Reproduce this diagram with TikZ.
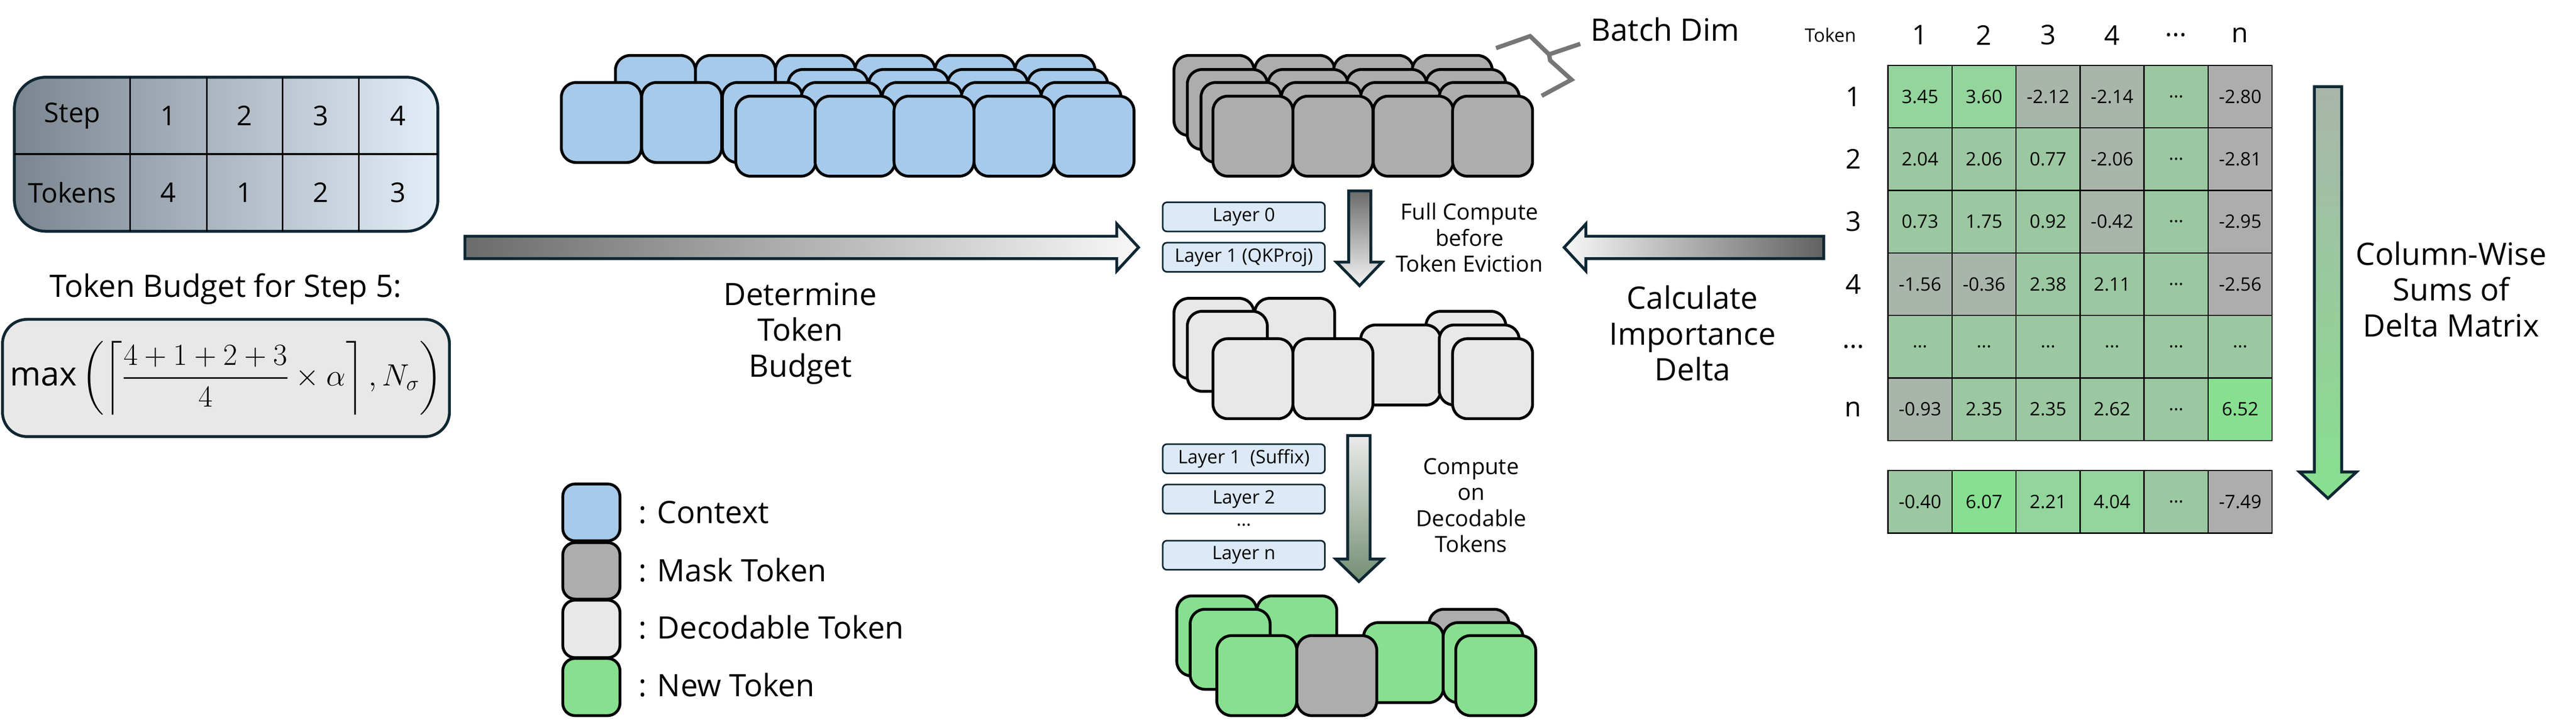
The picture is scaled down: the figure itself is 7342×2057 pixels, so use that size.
\documentclass[tikz,border=0pt]{standalone}
\usepackage{fontspec}
\usepackage{amsmath}
\setmainfont{Open Sans}
\definecolor{ctx}{HTML}{A7CAEA}
\definecolor{msk}{HTML}{ADADAD}
\definecolor{dec}{HTML}{E8E8E8}
\definecolor{newg}{HTML}{87E08F}
\definecolor{gA}{HTML}{87E08F}
\definecolor{gB}{HTML}{93D59C}
\definecolor{gC}{HTML}{9BC8A0}
\definecolor{gD}{HTML}{A9B5AA}
\definecolor{gE}{HTML}{ADADAD}
\definecolor{navy}{HTML}{0E2733}
\definecolor{layerfill}{HTML}{DCE9F6}
\definecolor{tabdark}{HTML}{7B858F}
\definecolor{bracegray}{HTML}{767676}
\newcommand\dd{...}
\tikzset{
  tok/.style={draw=black, line width=2.3pt, rounded corners=0.42cm},
  lay/.style={draw=navy, line width=1.3pt, fill=layerfill, rounded corners=0.12cm, minimum width=4.62cm, minimum height=0.83cm, inner sep=0pt, font=\fontsize{15}{18}\selectfont},
  lbl/.style={align=center, font=\fontsize{25}{29}\selectfont, inner sep=0pt},
  cell/.style={draw=black, line width=1pt, minimum width=1.823cm, minimum height=1.78cm, inner sep=0pt, font=\fontsize{15}{18}\selectfont},
  hdr/.style={font=\fontsize{22}{26}\selectfont, inner sep=0pt},
  blk/.style={draw=navy, line width=2.3pt, line join=miter},
  legtxt/.style={anchor=west, font=\fontsize{25}{29}\selectfont, inner sep=0pt}
}
\newcommand\tk[3]{\draw[tok, fill=#1] (#2,#3) rectangle ++(228,228);}
\begin{document}
\begin{tikzpicture}[x=0.01cm, y=-0.01cm]
\useasboundingbox (0,0) rectangle (7342,2057);
% ---- left table
\shade[left color=tabdark, right color=layerfill!80!white, rounded corners=0.9cm] (41,220) rectangle (1248,659);
\draw[navy, line width=2.3pt, rounded corners=0.9cm] (41,220) rectangle (1248,659);
\foreach \x in {371,589,806,1023} {\draw[line width=1.3pt] (\x,220) -- (\x,659);}
\draw[line width=1.3pt] (41,439) -- (1248,439);
\node[hdr] (tstep) at (206,330) {Step};
\node[hdr] (ttok) at (206,549) {Tokens};
\node[hdr] (s1) at (480,330) {1};
\node[hdr] (s2) at (697,330) {2};
\node[hdr] (s3) at (914,330) {3};
\node[hdr] (s4) at (1135,330) {4};
\node[hdr] (t1) at (480,549) {4};
\node[hdr] (t2) at (697,549) {1};
\node[hdr] (t3) at (914,549) {2};
\node[hdr] (t4) at (1135,549) {3};
\node[lbl] (budget) at (643,823) {Token Budget for Step 5:};
\draw[navy, line width=2.3pt, fill=dec, rounded corners=0.7cm] (7,910) rectangle (1281,1244);
\node[inner sep=0pt, font=\fontsize{27}{32}\selectfont] (formula) at (644,1077)
  {$\displaystyle \max\left(\left\lceil \frac{4+1+2+3}{4}\times\alpha\right\rceil, N_{\sigma}\right)$};
% ---- blue tokens
\foreach \x in {1754,1982,2210,2437,2665,2893} {\tk{ctx}{\x}{158}}
\foreach \x in {2246,2476,2701,2929} {\tk{ctx}{\x}{198}}
\foreach \x in {1600,1829,2059,2284,2514,2740,2967} {\tk{ctx}{\x}{235}}
\foreach \x in {2097,2323,2548,2776,3004} {\tk{ctx}{\x}{274}}
% ---- gray tokens
\foreach \x in {3346,3576,3801,4025} {\tk{msk}{\x}{158}}
\foreach \x in {3384,3614,3838,4064} {\tk{msk}{\x}{198}}
\foreach \x in {3423,3652,3878,4102} {\tk{msk}{\x}{235}}
\foreach \x in {3457,3685,3914,4140} {\tk{msk}{\x}{274}}
% batch dim brace
\draw[bracegray, line width=3.5pt, line join=miter] (4264,137) -- (4361,103) -- (4415,155) -- (4504,125);
\draw[bracegray, line width=3.5pt, line join=miter] (4415,155) -- (4418,172) -- (4479,227) -- (4394,273);
\node[lbl] (batch) at (4746,84) {Batch Dim};
% ---- decodable tokens
\foreach \x in {3346,3576} {\tk{dec}{\x}{850}}
\foreach \x in {3384,4064} {\tk{dec}{\x}{887}}
\foreach \x in {3878,4102} {\tk{dec}{\x}{926}}
\foreach \x in {3457,3685,4140} {\tk{dec}{\x}{965}}
% ---- new tokens
\foreach \x in {3354,3582} {\tk{newg}{\x}{1698}}
\tk{newg}{3392}{1736}
\tk{msk}{4073}{1736}
\foreach \x in {3886,4113} {\tk{newg}{\x}{1774}}
\tk{newg}{3468}{1811}
\tk{msk}{3696}{1811}
\tk{newg}{4149}{1811}
% ---- layers
\node[lay] (l0) at (3545,618) {Layer 0};
\node[lay] (l1) at (3545,733) {Layer 1 (QKProj)};
\node[lay] (l1s) at (3545,1307) {Layer 1\ \ (Suffix)};
\node[lay] (l2) at (3545,1422) {Layer 2};
\node[inner sep=0pt, font=\fontsize{15}{18}\selectfont] (ldots) at (3545,1495) {...};
\node[lay] (ln) at (3545,1582) {Layer n};
% ---- down arrows
\shade[top color=black!58, bottom color=black!4] (3844,544) -- (3907,544) -- (3907,747) -- (3939,747) -- (3875,814) -- (3809,747) -- (3844,747) -- cycle;
\draw[blk] (3844,544) -- (3907,544) -- (3907,747) -- (3939,747) -- (3875,814) -- (3809,747) -- (3844,747) -- cycle;
\node[lbl, font=\fontsize{18}{21}\selectfont] (fc) at (4188,677) {Full Compute\\before\\Token Eviction};
\shade[top color=black!8, bottom color=green!20!black!55!white] (3841,1241) -- (3905,1241) -- (3905,1593) -- (3941,1593) -- (3873,1657) -- (3807,1593) -- (3841,1593) -- cycle;
\draw[blk] (3841,1241) -- (3905,1241) -- (3905,1593) -- (3941,1593) -- (3873,1657) -- (3807,1593) -- (3841,1593) -- cycle;
\node[lbl, font=\fontsize{18}{21}\selectfont] (cd) at (4193,1440) {Compute\\on\\Decodable\\Tokens};
% ---- horizontal arrows
\shade[left color=black!58, right color=black!3] (1325,673) -- (3183,673) -- (3183,638) -- (3245,705) -- (3183,772) -- (3183,737) -- (1325,737) -- cycle;
\draw[blk] (1325,673) -- (3183,673) -- (3183,638) -- (3245,705) -- (3183,772) -- (3183,737) -- (1325,737) -- cycle;
\node[lbl] (det) at (2281,950) {Determine\\Token\\Budget};
\shade[left color=black!3, right color=black!62] (5198,673) -- (4520,673) -- (4520,638) -- (4458,705) -- (4520,772) -- (4520,737) -- (5198,737) -- cycle;
\draw[blk] (5198,673) -- (4520,673) -- (4520,638) -- (4458,705) -- (4520,772) -- (4520,737) -- (5198,737) -- cycle;
\node[lbl] (calc) at (4824,950) {Calculate\\Importance\\Delta};
% ---- legend
\draw[tok, fill=ctx, rounded corners=0.35cm] (1604,1379) rectangle (1767,1541);
\draw[tok, fill=msk, rounded corners=0.35cm] (1604,1546) rectangle (1767,1707);
\draw[tok, fill=dec, rounded corners=0.35cm] (1604,1710) rectangle (1767,1874);
\draw[tok, fill=newg, rounded corners=0.35cm] (1604,1876) rectangle (1767,2039);
\node[legtxt] (lg1) at (1819,1460) {: Context};
\node[legtxt] (lg2) at (1819,1624) {: Mask Token};
\node[legtxt] (lg3) at (1819,1788) {: Decodable Token};
\node[legtxt] (lg4) at (1819,1952) {: New Token};
% ---- matrix
\node[font=\fontsize{15}{18}\selectfont, inner sep=0pt] (tokhdr) at (5217,100) {Token};
\foreach \t [count=\i] in {1,2,3,4,\dd,n} {
  \pgfmathsetmacro\cx{5381+182.5*(\i-0.5)}
  \node[hdr] (h\i) at (\cx,100) {\t};
}
\foreach \t [count=\i] in {1,2,3,4,\dd,n} {
  \pgfmathsetmacro\cy{186+178.2*(\i-0.5)}
  \node[hdr] (r\i) at (5282,\cy) {\t};
}
\foreach \row [count=\i] in {
  {gB/3.45,gB/3.60,gD/-2.12,gD/-2.14,gC/\dd,gE/-2.80},
  {gC/2.04,gC/2.06,gC/0.77,gD/-2.06,gC/\dd,gE/-2.81},
  {gC/0.73,gC/1.75,gC/0.92,gD/-0.42,gC/\dd,gE/-2.95},
  {gD/-1.56,gD/-0.36,gC/2.38,gC/2.11,gC/\dd,gE/-2.56},
  {gC/\dd,gC/\dd,gC/\dd,gC/\dd,gC/\dd,gC/\dd},
  {gD/-0.93,gC/2.35,gC/2.35,gC/2.62,gC/\dd,gA/6.52}} {
  \foreach \c/\v [count=\j] in \row {
    \pgfmathsetmacro\cx{5381+182.5*(\j-0.5)}
    \pgfmathsetmacro\cy{186+178.2*(\i-0.5)}
    \node[cell, fill=\c] (m-\i-\j) at (\cx,\cy) {\v};
  }
}
\foreach \c/\v [count=\j] in {gC/-0.40,gA/6.07,gB/2.21,gB/4.04,gC/\dd,gE/-7.49} {
  \pgfmathsetmacro\cx{5381+182.5*(\j-0.5)}
  \node[cell, fill=\c] (s-\j) at (\cx,1430) {\v};
}
\shade[top color=gD, bottom color=gA] (6596,247) -- (6674,247) -- (6674,1345) -- (6716,1345) -- (6635,1420) -- (6554,1345) -- (6596,1345) -- cycle;
\draw[blk] (6596,247) -- (6674,247) -- (6674,1345) -- (6716,1345) -- (6635,1420) -- (6554,1345) -- (6596,1345) -- cycle;
\node[lbl] (colsum) at (6986,824) {Column-Wise\\Sums of\\Delta Matrix};
\end{tikzpicture}
\end{document}
